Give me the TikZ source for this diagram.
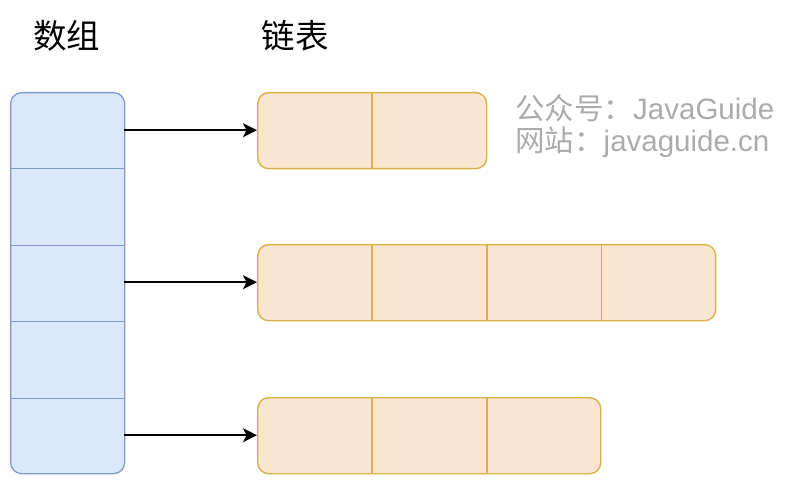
\documentclass[tikz,border=0pt]{standalone}
\usepackage{fontspec}
\newfontfamily\cjk{Noto Sans CJK SC}
\newfontfamily\lat{Liberation Sans}
\usetikzlibrary{arrows.meta}
\definecolor{arrfill}{HTML}{DAE8FC}
\definecolor{arrline}{HTML}{7C9BCB}
\definecolor{lfill}{HTML}{FAE6D0}
\definecolor{lline}{HTML}{D9B04A}
\definecolor{wm}{HTML}{ABABAB}
\begin{document}
\begin{tikzpicture}[x=1pt,y=1pt,
  arrbox/.style={draw=arrline, fill=arrfill, line width=1.3pt, rounded corners=11pt,
    inner sep=0pt, minimum width=114pt, anchor=north west},
  lbox/.style={draw=lline, fill=lfill, line width=1.4pt, rounded corners=11pt,
    inner sep=0pt, minimum height=76pt, anchor=north west},
  acell/.style={inner sep=0pt, minimum width=114pt, minimum height=76.2pt, anchor=north west},
  lcell/.style={inner sep=0pt, minimum width=114.5pt, minimum height=76pt, anchor=north west},
  adiv/.style={draw=arrline, line width=1.3pt},
  ldiv/.style={draw=lline, line width=1.4pt},
  conn/.style={draw=black, line width=1.5pt, -{Stealth[length=14pt,width=14pt,inset=3.5pt]}},
  title/.style={font=\cjk\fontsize{33.5}{38}\selectfont, text=black},
  wmark/.style={font=\fontsize{29.5}{34}\selectfont, text=wm, anchor=west, inner sep=0pt}
]
\useasboundingbox (0,0) rectangle (790,488);
% titles
\node[title] (t1) at (67,452) {数组};
\node[title] (t2) at (295,452) {链表};
% array
\node[arrbox, minimum height=381pt] (arr) at (10,396) {};
\node[acell] (a1) at (arr.north west) {};
\node[acell] (a2) at (a1.south west) {};
\node[acell] (a3) at (a2.south west) {};
\node[acell] (a4) at (a3.south west) {};
\node[acell] (a5) at (a4.south west) {};
\draw[adiv] (a1.south west) -- (a1.south east);
\draw[adiv] (a2.south west) -- (a2.south east);
\draw[adiv] (a3.south west) -- (a3.south east);
\draw[adiv] (a4.south west) -- (a4.south east);
% list 1
\node[lbox, minimum width=229pt] (L1) at (257,396) {};
\node[lcell] (l11) at (L1.north west) {};
\node[lcell] (l12) at (l11.north east) {};
\draw[ldiv] (l11.north east) -- (l11.south east);
% list 2
\node[lbox, minimum width=458pt] (L2) at (257,244) {};
\node[lcell] (l21) at (L2.north west) {};
\node[lcell] (l22) at (l21.north east) {};
\node[lcell] (l23) at (l22.north east) {};
\node[lcell] (l24) at (l23.north east) {};
\draw[ldiv] (l21.north east) -- (l21.south east);
\draw[ldiv] (l22.north east) -- (l22.south east);
\draw[ldiv] (l23.north east) -- (l23.south east);
% list 3
\node[lbox, minimum width=343pt] (L3) at (257,91) {};
\node[lcell] (l31) at (L3.north west) {};
\node[lcell] (l32) at (l31.north east) {};
\node[lcell] (l33) at (l32.north east) {};
\draw[ldiv] (l31.north east) -- (l31.south east);
\draw[ldiv] (l32.north east) -- (l32.south east);
% connectors
\draw[conn] (a1.east |- l11.west) -- (l11.west);
\draw[conn] (a3.east |- l21.west) -- (l21.west);
\draw[conn] (a5.east |- l31.west) -- (l31.west);
% watermark
\node[wmark] (w1) at (515,379.5) {{\cjk 公众号：}{\lat JavaGuide}};
\node[wmark] (w2) at (515,345.5) {{\cjk 网站：}{\lat javaguide.cn}};
\end{tikzpicture}
\end{document}
